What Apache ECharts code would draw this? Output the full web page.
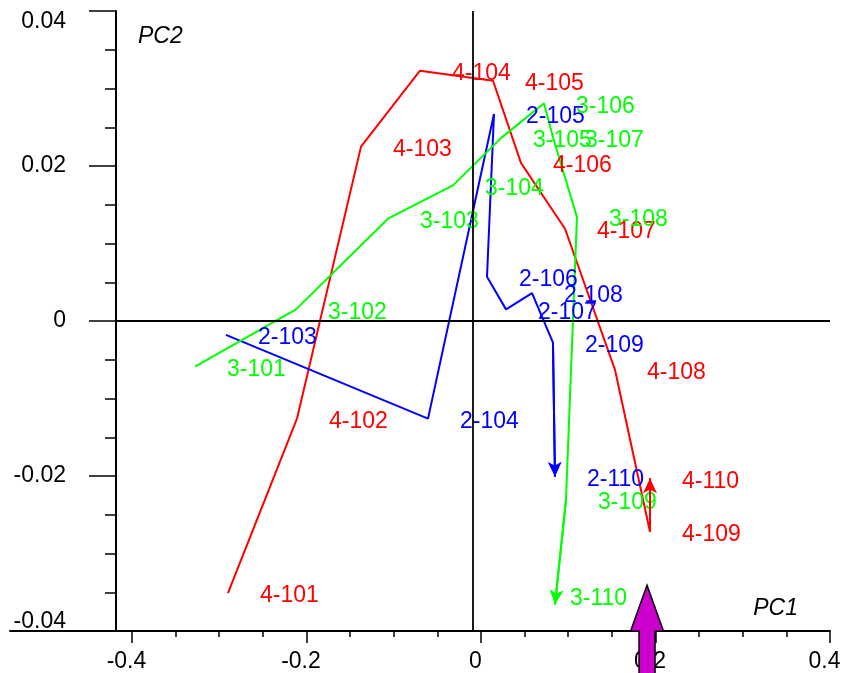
<!DOCTYPE html>
<html>
<head>
<meta charset="utf-8">
<script src="https://cdn.jsdelivr.net/npm/echarts@6/dist/echarts.min.js"></script>
<style>
  html, body { margin: 0; padding: 0; background: #fff; }
  #chart { width: 844px; height: 673px; }
</style>
</head>
<body>
<div id="chart"></div>
<script>
// PCA trajectories (PC1 vs PC2) of three sample groups, sampled 101..110

const group4Names = ['4-101', '4-102', '4-103', '4-104', '4-105', '4-106', '4-107', '4-108', '4-109', '4-110'];
const group4PC1 = [-0.2900, -0.2109, -0.1375, -0.0699, 0.0138, 0.0458, 0.0963, 0.1536, 0.1937, 0.1937];
const group4PC2 = [-0.0351, -0.0126, 0.0225, 0.0323, 0.0310, 0.0204, 0.0119, -0.0063, -0.0272, -0.0203];

const group2Names = ['2-103', '2-104', '2-105', '2-106', '2-107', '2-108', '2-109', '2-110'];
const group2PC1 = [-0.2923, -0.0607, 0.0149, 0.0069, 0.0287, 0.0585, 0.0825, 0.0848];
const group2PC2 = [-0.0018, -0.0126, 0.0267, 0.0057, 0.0015, 0.0036, -0.0028, -0.0201];

const group3Names = ['3-101', '3-102', '3-103', '3-104', '3-105', '3-106', '3-107', '3-108', '3-109', '3-110'];
const group3PC1 = [-0.3278, -0.2120, -0.1066, -0.0321, 0.0229, 0.0722, 0.0825, 0.1100, 0.0974, 0.0848];
const group3PC2 = [-0.0059, 0.0015, 0.0132, 0.0175, 0.0236, 0.0281, 0.0237, 0.0134, -0.0231, -0.0366];

// axis ranges and tick values
const pc1Range = [-0.4183, 0.4];
const pc2Range = [-0.04, 0.04];
const pc1MajorTicks = [-0.4, -0.2, 0, 0.2, 0.4];
const pc1MinorTicks = [-0.4, -0.35, -0.3, -0.25, -0.2, -0.15, -0.1, -0.05, 0, 0.05, 0.1, 0.15, 0.2, 0.25, 0.3, 0.35, 0.4];
const pc2TickStep = 0.02;

// reference cross through the plot and the variable arrow tip
const crossAt = [-0.0103, 0];
const variableArrowTip = [0.1903, -0.0341];

const FONT = 'Liberation Sans';
const RED = '#ff0000', BLUE = '#0000ff', GREEN = '#00ff00', MAGENTA = '#cc00cc';

function fmt(v) { return String(+v.toFixed(3)); }

function trajectory(seriesName, names, xs, ys, color, labelTweaks) {
  const data = names.map((n, i) => {
    const item = { name: n, value: [xs[i], ys[i]] };
    if (labelTweaks && labelTweaks[n]) item.label = labelTweaks[n];
    return item;
  });
  const n = data.length;
  return {
    type: 'line',
    name: seriesName,
    xAxisIndex: 0, yAxisIndex: 0,
    z: 3,
    data: data,
    symbol: 'circle',
    symbolSize: 0,
    showSymbol: true,
    itemStyle: { color: color },
    lineStyle: { color: color, width: 2 },
    label: {
      show: true, position: 'right', distance: 32, offset: [0, 3], formatter: '{b}',
      color: color, fontSize: 23, fontFamily: FONT
    },
    emphasis: { disabled: true },
    markLine: {
      silent: true,
      symbol: ['none', 'arrow'],
      lineStyle: { color: color, width: 2, type: 'solid' },
      label: { show: false },
      emphasis: { disabled: true },
      data: [[
        { coord: data[n - 2].value, symbol: 'none' },
        { coord: data[n - 1].value, symbol: 'arrow', symbolSize: [10.5, 15], itemStyle: { color: color } }
      ]]
    }
  };
}

const chart = echarts.init(document.getElementById('chart'), null, { renderer: 'canvas' });

chart.setOption({
  animation: false,
  backgroundColor: '#ffffff',
  textStyle: { fontFamily: FONT },
  grid: [
    { left: 116, right: 14, top: 11, bottom: 42 },
    { left: 10, width: 106, top: 11, bottom: 42 }
  ],
  xAxis: [
    {
      type: 'value', gridIndex: 0, position: 'bottom',
      min: pc1Range[0], max: pc1Range[1],
      axisLine: { show: true, onZero: false, lineStyle: { color: '#000', width: 2 } },
      axisTick: { show: true, customValues: pc1MajorTicks, length: 12, lineStyle: { color: '#000', width: 1.5 } },
      axisLabel: {
        show: true, customValues: pc1MajorTicks, margin: 19,
        color: '#000', fontSize: 23, fontFamily: FONT, padding: [0, 11, 0, 0],
        formatter: fmt
      },
      splitLine: { show: false },
      name: '{n|PC1}', nameLocation: 'end', nameGap: -32, nameMoveOverlap: false,
      nameTextStyle: {
        color: '#000', fontSize: 23, fontStyle: 'italic', fontFamily: FONT,
        align: 'right', verticalAlign: 'middle',
        rich: {
          n: { color: '#000', fontSize: 23, fontStyle: 'italic', fontFamily: FONT, padding: [0, 0, 44, 0] }
        }
      }
    },
    {
      type: 'value', gridIndex: 0, position: 'bottom',
      min: pc1Range[0], max: pc1Range[1],
      axisLine: { show: false, onZero: false },
      axisTick: { show: true, customValues: pc1MinorTicks, length: 6, lineStyle: { color: '#000', width: 1.5 } },
      axisLabel: { show: false },
      splitLine: { show: false }
    },
    {
      type: 'value', gridIndex: 1, position: 'bottom', min: 0, max: 1,
      axisLine: { show: true, onZero: false, lineStyle: { color: '#000', width: 2 } },
      axisTick: { show: false }, axisLabel: { show: false }, splitLine: { show: false }
    }
  ],
  yAxis: [
    {
      type: 'value', gridIndex: 0, position: 'left',
      min: pc2Range[0], max: pc2Range[1], interval: pc2TickStep,
      axisLine: { show: true, onZero: false, lineStyle: { color: '#000', width: 2 } },
      axisTick: { show: true, length: 27, lineStyle: { color: '#000', width: 1.5 } },
      minorTick: { show: true, splitNumber: 4, length: 11, lineStyle: { color: '#000', width: 1.5 } },
      axisLabel: {
        show: true, margin: 50, color: '#000', fontSize: 23, fontFamily: FONT,
        formatter: function (v) {
          const t = fmt(v);
          if (v > pc2Range[1] - 1e-6) return '{top|' + t + '}';
          if (v < pc2Range[0] + 1e-6) return '{bot|' + t + '}';
          return t;
        },
        rich: {
          top: { fontSize: 23, color: '#000', fontFamily: FONT, padding: [22, 0, 0, 0] },
          bot: { fontSize: 23, color: '#000', fontFamily: FONT, padding: [0, 0, 18, 0] }
        }
      },
      splitLine: { show: false },
      minorSplitLine: { show: false },
      name: 'PC2', nameLocation: 'end', nameGap: -26,
      nameTextStyle: {
        color: '#000', fontSize: 23, fontStyle: 'italic', fontFamily: FONT,
        align: 'left', verticalAlign: 'middle', padding: [0, 0, 0, 22]
      }
    },
    { type: 'value', gridIndex: 1, show: false, min: -1, max: 1 }
  ],
  series: [
    {
      type: 'line', name: 'cross', xAxisIndex: 0, yAxisIndex: 0, z: 1, data: [],
      markLine: {
        silent: true, symbol: 'none',
        lineStyle: { color: '#000', width: 1.8, type: 'solid' },
        label: { show: false },
        emphasis: { disabled: true },
        data: [{ xAxis: crossAt[0] }, { yAxis: crossAt[1] }]
      }
    },
    trajectory('4', group4Names, group4PC1, group4PC2, RED),
    trajectory('2', group2Names, group2PC1, group2PC2, BLUE),
    trajectory('3', group3Names, group3PC1, group3PC2, GREEN, {
      '3-110': { distance: 15, offset: [0, -6] }
    }),
    {
      type: 'custom', name: 'variable', xAxisIndex: 0, yAxisIndex: 0,
      z: 6, clip: false, silent: true,
      data: [variableArrowTip],
      renderItem: function (params, api) {
        const p = api.coord([api.value(0), api.value(1)]);
        const headH = 46, headW = 33, shaftW = 16, len = 100;
        const x = p[0], y = p[1];
        return {
          type: 'polygon',
          shape: {
            points: [
              [x, y],
              [x + headW / 2, y + headH],
              [x + shaftW / 2, y + headH],
              [x + shaftW / 2, y + len],
              [x - shaftW / 2, y + len],
              [x - shaftW / 2, y + headH],
              [x - headW / 2, y + headH]
            ]
          },
          style: { fill: MAGENTA, stroke: '#000', lineWidth: 1.5, lineJoin: 'miter' }
        };
      }
    }
  ]
});
</script>
</body>
</html>
